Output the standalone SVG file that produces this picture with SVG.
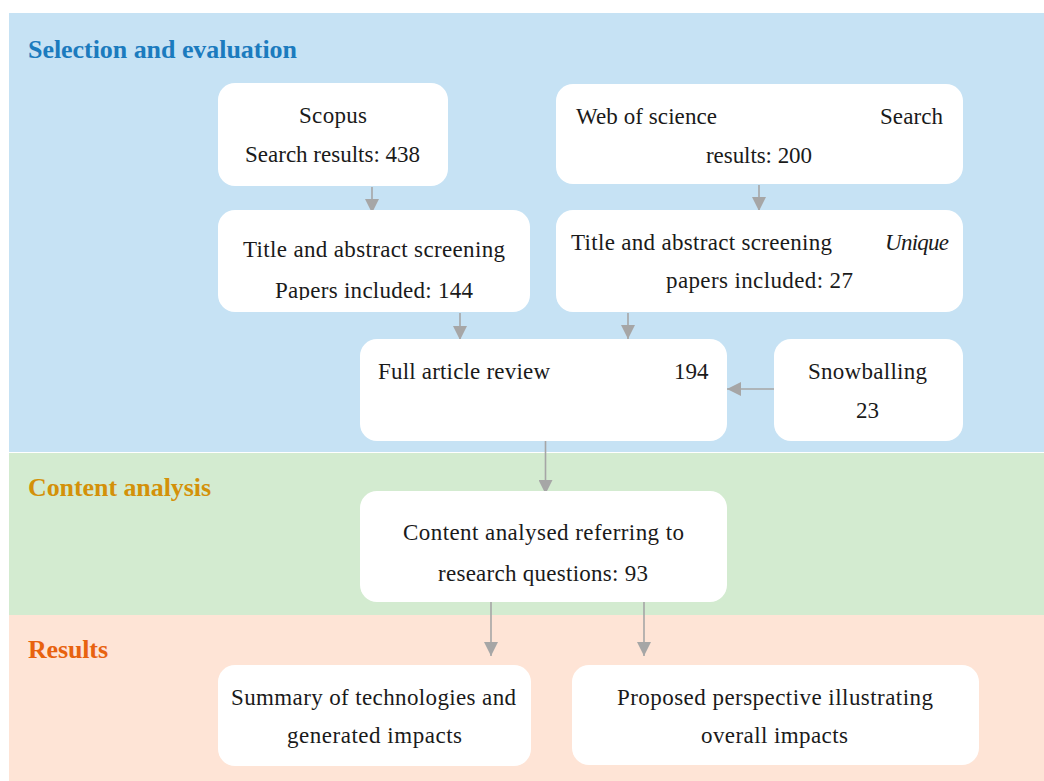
<svg xmlns="http://www.w3.org/2000/svg" width="1044" height="781" viewBox="0 0 1044 781">
<style>
.box{fill:#ffffff}
.t{font-family:"Liberation Serif","Times New Roman",serif;font-size:23px;fill:#1a1a1a}
.it{font-style:italic}
.h{font-family:"Liberation Serif","Times New Roman",serif;font-size:26px;font-weight:bold}
.c{stroke:#a6a6a6;stroke-width:1.6;fill:none;marker-end:url(#ah)}
</style>
<defs>
<marker id="ah" markerUnits="userSpaceOnUse" markerWidth="14" markerHeight="14" refX="14" refY="7" orient="auto" viewBox="0 0 14 14">
<path d="M0,0 L14,7 L0,14 Z" fill="#a6a6a6"/>
</marker>
<clipPath id="clipL"><rect x="218" y="210" width="312" height="90"/></clipPath>
</defs>
<rect width="1044" height="781" fill="#ffffff"/>
<g id="bands">
<rect x="9" y="13" width="1035" height="439" fill="#c6e2f4"/>
<rect x="9" y="453" width="1035" height="162" fill="#d3ebd0"/>
<rect x="9" y="615" width="1035" height="166" fill="#fee4d6"/>
<text class="h" x="28" y="57.5" fill="#1b7bbe" textLength="269" lengthAdjust="spacing">Selection and evaluation</text>
<text class="h" x="28" y="495.5" fill="#d39109" textLength="183" lengthAdjust="spacing">Content analysis</text>
<text class="h" x="28" y="657.5" fill="#e8620f" textLength="80" lengthAdjust="spacing">Results</text>
</g>
<g id="connectors">
<line class="c" x1="372" y1="187" x2="372" y2="213"/>
<line class="c" x1="759" y1="185" x2="759" y2="211"/>
<line class="c" x1="460" y1="313" x2="460" y2="340"/>
<line class="c" x1="628" y1="313" x2="628" y2="339"/>
<line class="c" x1="774" y1="389" x2="727" y2="389"/>
<line class="c" x1="545.5" y1="441" x2="545.5" y2="494"/>
<line class="c" x1="491" y1="602" x2="491" y2="656"/>
<line class="c" x1="644" y1="602" x2="644" y2="656"/>
</g>
<g id="scopus">
<rect class="box" x="218" y="83" width="230" height="103" rx="17"/>
<text class="t" x="299" y="123" textLength="68" lengthAdjust="spacing">Scopus</text>
<text class="t" x="245" y="162" textLength="175" lengthAdjust="spacing">Search results: 438</text>
</g>
<g id="wos">
<rect class="box" x="556" y="84" width="407" height="100" rx="17"/>
<text class="t" x="576" y="124" textLength="141" lengthAdjust="spacing">Web of science</text>
<text class="t" x="880" y="124" textLength="63" lengthAdjust="spacing">Search</text>
<text class="t" x="706" y="163" textLength="106" lengthAdjust="spacing">results: 200</text>
</g>
<g id="screen-left">
<rect class="box" x="218" y="210" width="312" height="102" rx="17"/>
<text class="t" x="243" y="257" textLength="262" lengthAdjust="spacing">Title and abstract screening</text>
<text class="t" x="275" y="298" textLength="198" lengthAdjust="spacing" clip-path="url(#clipL)">Papers included: 144</text>
</g>
<g id="screen-right">
<rect class="box" x="556" y="210" width="407" height="102" rx="17"/>
<text class="t" x="571" y="250" textLength="261" lengthAdjust="spacing">Title and abstract screening</text>
<text class="t it" x="885" y="250" textLength="64" lengthAdjust="spacing">Unique</text>
<text class="t" x="666" y="288" textLength="187" lengthAdjust="spacing">papers included: 27</text>
</g>
<g id="full-review">
<rect class="box" x="360" y="339" width="367" height="102" rx="17"/>
<text class="t" x="378" y="379" textLength="172" lengthAdjust="spacing">Full article review</text>
<text class="t" x="674" y="379">194</text>
</g>
<g id="snowballing">
<rect class="box" x="774" y="339" width="189" height="102" rx="17"/>
<text class="t" x="808" y="379" textLength="119" lengthAdjust="spacing">Snowballing</text>
<text class="t" x="856" y="418">23</text>
</g>
<g id="content">
<rect class="box" x="360" y="491" width="367" height="111" rx="17"/>
<text class="t" x="403" y="540" textLength="281" lengthAdjust="spacing">Content analysed referring to</text>
<text class="t" x="438" y="581" textLength="210" lengthAdjust="spacing">research questions: 93</text>
</g>
<g id="summary">
<rect class="box" x="218" y="665" width="313" height="101" rx="17"/>
<text class="t" x="231" y="705" textLength="285" lengthAdjust="spacing">Summary of technologies and</text>
<text class="t" x="287" y="743" textLength="175" lengthAdjust="spacing">generated impacts</text>
</g>
<g id="perspective">
<rect class="box" x="572" y="665" width="407" height="100" rx="17"/>
<text class="t" x="617" y="705" textLength="316" lengthAdjust="spacing">Proposed perspective illustrating</text>
<text class="t" x="701" y="743" textLength="147" lengthAdjust="spacing">overall impacts</text>
</g>
</svg>
